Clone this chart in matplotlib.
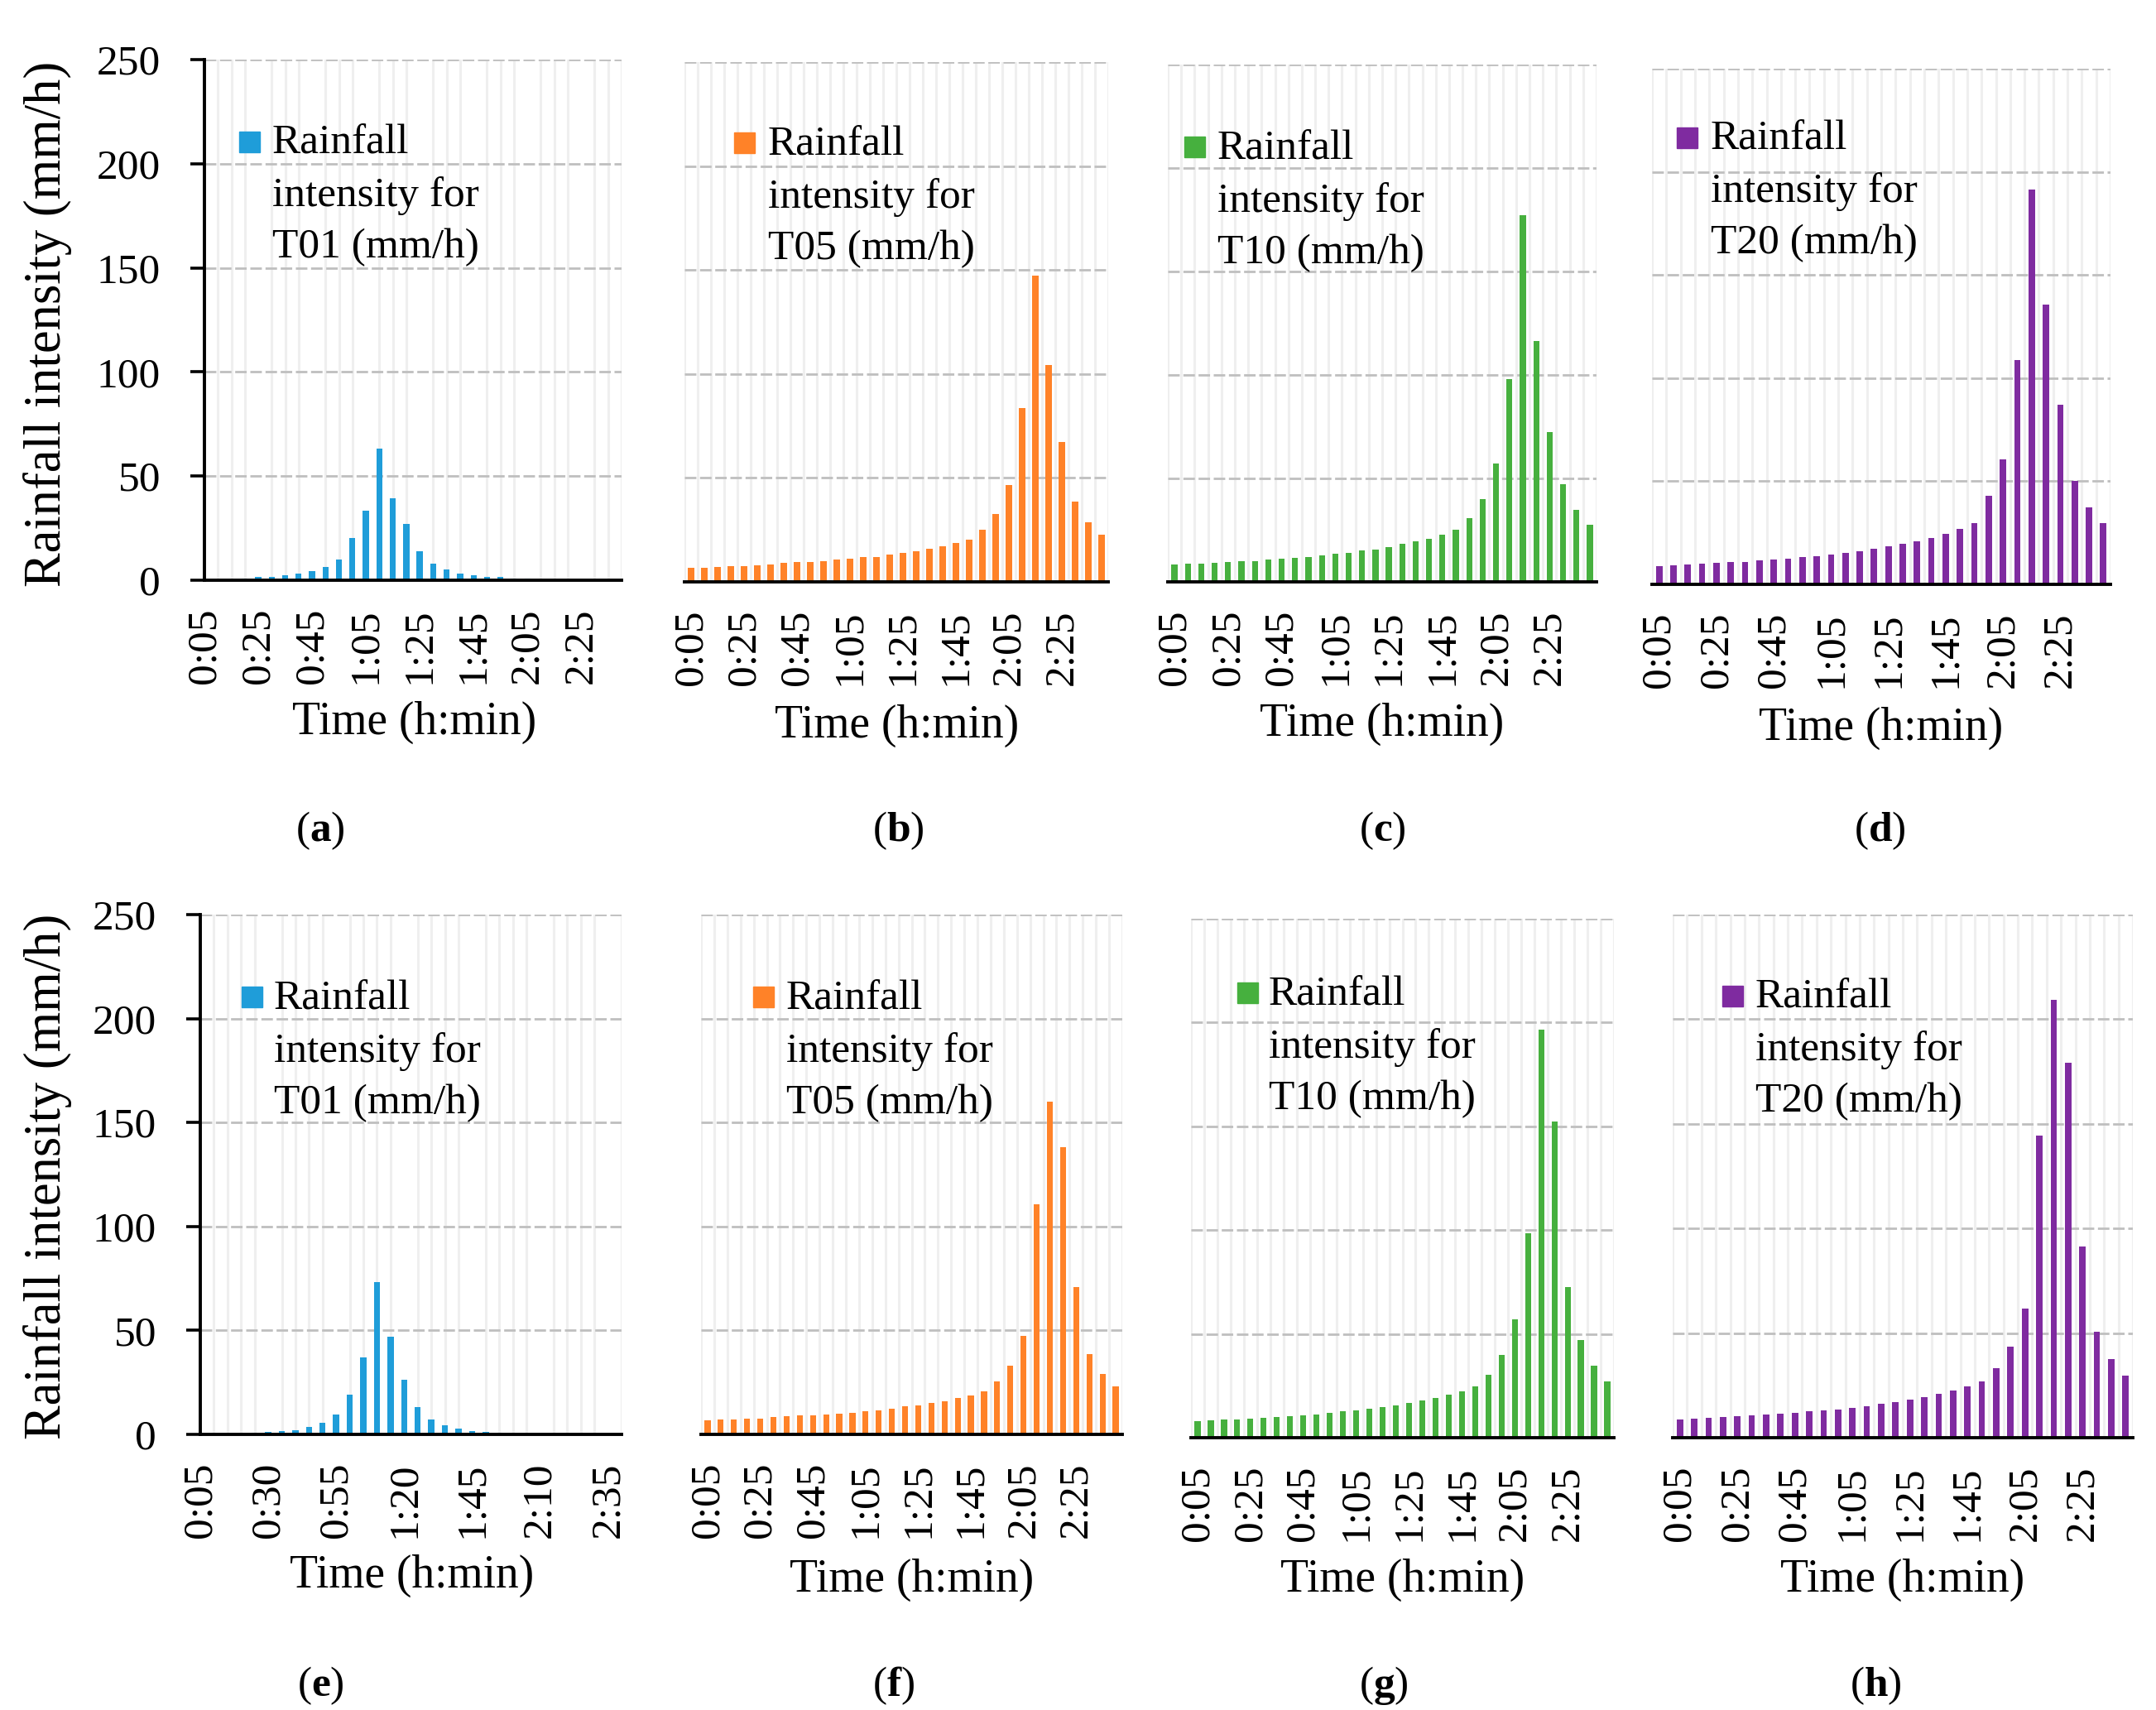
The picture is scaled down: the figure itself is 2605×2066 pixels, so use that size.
import matplotlib
matplotlib.use("Agg")
import matplotlib.pyplot as plt
from matplotlib.patches import Rectangle

# ---------------- data ----------------
times = ['0:05', '0:10', '0:15', '0:20', '0:25', '0:30', '0:35', '0:40',
         '0:45', '0:50', '0:55', '1:00', '1:05', '1:10', '1:15', '1:20',
         '1:25', '1:30', '1:35', '1:40', '1:45', '1:50', '1:55', '2:00',
         '2:05', '2:10', '2:15', '2:20', '2:25', '2:30', '2:35', '2:40']

a_T01 = [0.3, 0.5, 0.5, 0.9, 1.4, 1.7, 2.3, 3.1, 4.3, 6.3, 10.0, 20.3, 33.2, 63.0, 39.3, 27.0,
         14.1, 8.0, 5.0, 3.3, 2.3, 1.7, 1.4, 0.9, 0.7, 0.5, 0.2, 0.2, 0.1, 0.1, 0.1, 0.3]
b_T05 = [6.6, 6.9, 7.1, 7.5, 7.6, 8.0, 8.3, 9.0, 9.4, 9.5, 10.0, 10.6, 11.1, 11.8, 12.1, 13.0,
         14.0, 14.9, 15.9, 17.1, 18.8, 20.4, 25.2, 32.6, 46.6, 83.5, 147.3, 104.2, 67.3, 38.7, 28.7, 22.6]
c_T10 = [8.2, 8.6, 8.7, 9.1, 9.4, 9.8, 10.1, 10.6, 11.0, 11.5, 12.0, 12.6, 13.4, 14.1, 15.0, 15.7,
         16.8, 18.2, 19.4, 20.8, 22.9, 25.0, 30.9, 40.1, 57.1, 98.1, 177.0, 116.4, 72.4, 47.1, 34.9, 27.4]
d_T20 = [8.9, 9.2, 9.6, 9.9, 10.3, 10.8, 11.0, 11.7, 12.0, 12.4, 13.2, 13.6, 14.4, 15.3, 16.0, 17.2,
         18.3, 19.5, 20.9, 22.5, 24.5, 26.8, 29.8, 42.8, 60.6, 108.6, 191.5, 135.6, 87.2, 50.1, 37.3, 29.8]
e_T01 = [0.2, 0.2, 0.3, 0.4, 0.7, 1.0, 1.4, 2.1, 3.5, 5.6, 9.7, 19.3, 37.0, 73.3, 47.0, 26.1,
         13.2, 7.1, 4.4, 2.8, 1.7, 1.0, 0.7, 0.3, 0.2, 0.1, 0.1, 0.1, 0.1, 0.1, 0.1, 0.3]
f_T05 = [6.7, 7.1, 7.1, 7.4, 7.7, 8.4, 8.6, 9.0, 9.1, 9.6, 9.8, 10.5, 11.0, 11.5, 12.4, 13.4,
         14.1, 15.0, 16.0, 17.4, 18.8, 20.7, 25.3, 33.0, 47.3, 110.8, 160.1, 138.0, 70.9, 38.7, 28.9, 22.9]
g_T10 = [7.9, 8.4, 8.6, 8.7, 9.2, 9.6, 9.9, 10.5, 10.6, 11.3, 11.9, 12.6, 13.1, 14.0, 14.7, 15.7,
         16.8, 17.8, 19.0, 20.8, 22.5, 24.6, 30.5, 40.0, 57.2, 98.3, 196.5, 152.5, 72.4, 47.1, 34.6, 27.2]
h_T20 = [8.7, 9.2, 9.4, 9.7, 10.1, 10.6, 10.9, 11.5, 12.0, 12.7, 13.2, 13.5, 14.4, 14.9, 16.1, 17.0,
         18.2, 19.4, 21.0, 22.7, 24.6, 26.9, 33.1, 43.4, 61.8, 144.2, 209.2, 179.2, 91.4, 50.8, 37.6, 29.8]

series_names = ['T01', 'T05', 'T10', 'T20', 'T01', 'T05', 'T10', 'T20']
panel_letters = ['a', 'b', 'c', 'd', 'e', 'f', 'g', 'h']
y_ticks = [0, 50, 100, 150, 200, 250]

# ---------------- style ----------------
W, H = 2605, 2066
FONT = 'Liberation Serif'
plt.rcParams['font.family'] = [FONT, 'DejaVu Serif']
plt.rcParams['mathtext.fontset'] = 'custom'
plt.rcParams['mathtext.rm'] = FONT
plt.rcParams['mathtext.bf'] = FONT + ':bold'

colors = ['#1F9DD9', '#FF8228', '#46B03E', '#7F2BA0'] * 2
all_values = [a_T01, b_T05, c_T10, d_T20, e_T01, f_T05, g_T10, h_T20]

# axes boxes in pixels (x0, x1, ytop, ybottom)
boxes = [(247, 751, 72, 701), (827, 1339, 75, 703), (1411, 1929, 78, 703), (1996, 2550, 83, 706),
         (242, 751, 1105, 1733), (847, 1356, 1105, 1733), (1439, 1950, 1110, 1737), (2021, 2577, 1105, 1737)]
legend_sq = [(289, 159), (887, 160), (1431, 165), (2026, 154),
             (292, 1192), (910, 1192), (1495, 1187), (2081, 1191)]
legend_txt = [(329, 150), (928, 152), (1471, 157), (2067, 145),
              (331, 1184), (950, 1184), (1533, 1179), (2121, 1182)]
time_lbl = [(501, 873), (1084, 877), (1670, 875), (2273, 880),
            (498, 1904), (1102, 1909), (1695, 1909), (2299, 1909)]
letter_lbl = [(387, 1004), (1085, 1004), (1670, 1004), (2271, 1004),
              (387, 2037), (1080, 2037), (1672, 2037), (2266, 2037)]

fig = plt.figure(figsize=(W / 100, H / 100), dpi=100)
fig.patch.set_facecolor('white')

n = len(times)
pos = list(range(n))

for i in range(8):
    x0, x1, yt, yb = boxes[i]
    ax = fig.add_axes([x0 / W, 1 - yb / H, (x1 - x0) / W, (yb - yt) / H])
    vals = all_values[i]
    on_ticks = i in (0, 4)
    ax.bar(pos, vals, width=0.45, color=colors[i], zorder=3)
    ax.set_ylim(0, 250)
    ax.set_yticks(y_ticks)
    ax.set_axisbelow(True)
    if on_ticks:
        ax.set_xlim(0, n - 1)
        ax.set_xticks(pos, minor=True)
    else:
        ax.set_xlim(-0.5, n - 0.5)
        ax.set_xticks([p - 0.5 for p in pos] + [n - 0.5], minor=True)
    step = 5 if i == 4 else 4
    ax.set_xticks(pos[::step])
    ax.set_xticklabels(times[::step], rotation=90, fontsize=37)
    ax.tick_params(axis='x', which='both', length=0, pad=24)
    ax.grid(axis='x', which='minor', color='#EFEFEF', linewidth=2.2, zorder=0)
    ax.grid(axis='x', which='major', visible=False)
    ax.grid(axis='y', which='major', color='#BFBFBF', linewidth=2.0,
            linestyle=(0, (5, 1.6)), zorder=1)
    for s in ('top', 'right'):
        ax.spines[s].set_visible(False)
    ax.spines['bottom'].set_linewidth(2.8)
    ax.spines['bottom'].set_zorder(5)
    if i in (0, 4):
        ax.spines['left'].set_linewidth(2.8)
        ax.spines['left'].set_zorder(5)
        ax.tick_params(axis='y', which='major', length=12, width=2.6,
                       direction='out', pad=26, labelsize=37)
    else:
        ax.spines['left'].set_visible(False)
        ax.tick_params(axis='y', which='major', length=0, labelleft=False)
    ax.tick_params(axis='y', which='minor', length=0)

    # legend
    sx, sy = legend_sq[i]
    fig.patches.append(Rectangle((sx / W, 1 - (sy + 25) / H), 25 / W, 25 / H,
                                 transform=fig.transFigure, color=colors[i]))
    tx, ty = legend_txt[i]
    fig.text(tx / W, 1 - ty / H, 'Rainfall\nintensity for\n%s (mm/h)' % series_names[i],
             fontsize=37, va='top', ha='left', linespacing=1.45)

    # axis title
    lx, ly = time_lbl[i]
    fig.text(lx / W, 1 - ly / H, 'Time (h:min)', fontsize=40, ha='center', va='center')

    # panel letter
    px, py = letter_lbl[i]
    fig.text(px / W, 1 - py / H, '(' + r'$\mathbf{%s}$' % panel_letters[i] + ')',
             fontsize=37, ha='center', va='center')

# y labels
fig.text(58 / W, 1 - 391 / H, 'Rainfall intensity (mm/h)', rotation=90,
         fontsize=45, ha='center', va='center')
fig.text(58 / W, 1 - 1421 / H, 'Rainfall intensity (mm/h)', rotation=90,
         fontsize=45, ha='center', va='center')

fig.savefig('out.png', dpi=100, facecolor='white')
